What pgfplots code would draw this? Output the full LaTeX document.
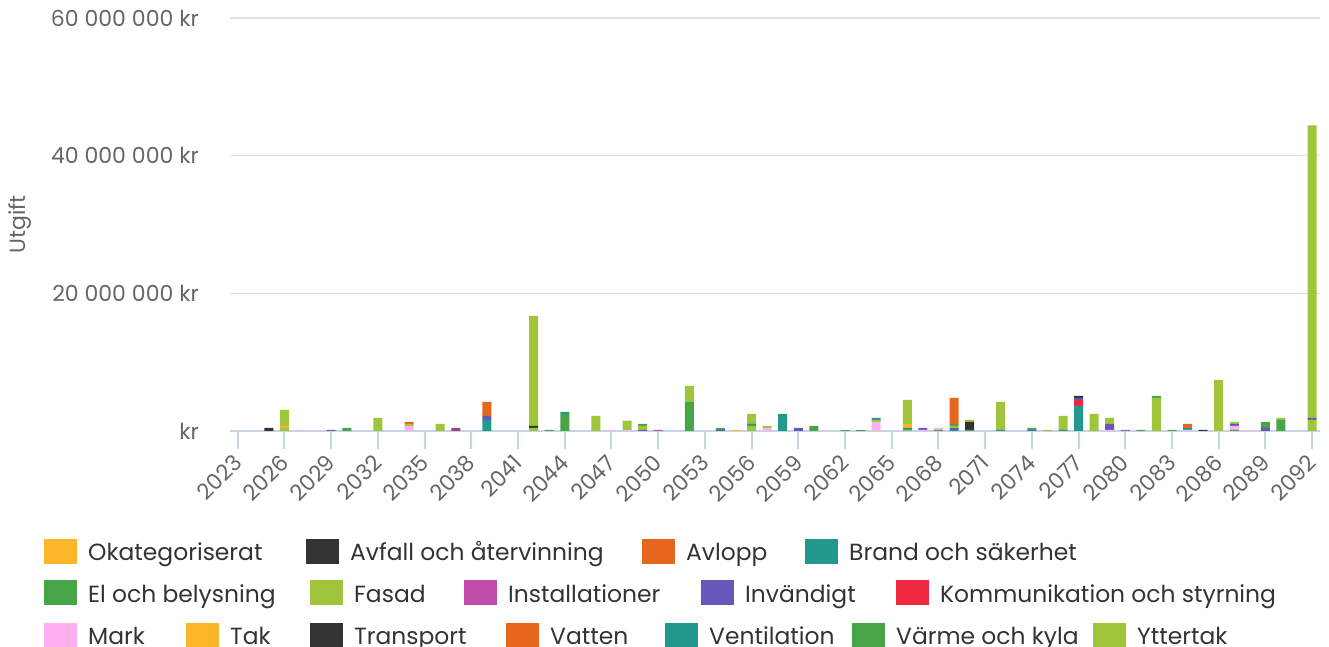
\documentclass[border=0pt]{standalone}
\usepackage{fontspec}
\setmainfont{Poppins}
\usepackage{pgfplots}
\usepackage{pgfplotstable}
\pgfplotsset{compat=1.18}
\definecolor{cY}{HTML}{FDB52A}
\definecolor{cD}{HTML}{333333}
\definecolor{cO}{HTML}{E7661E}
\definecolor{cT}{HTML}{23998E}
\definecolor{cG}{HTML}{47A447}
\definecolor{cL}{HTML}{A0C43A}
\definecolor{cM}{HTML}{C04CAA}
\definecolor{cP}{HTML}{6658B8}
\definecolor{cR}{HTML}{EE2841}
\definecolor{cK}{HTML}{FEB0F0}
\definecolor{cAx}{HTML}{C6D4E3}
\definecolor{cGrid}{HTML}{E0E0E0}
\definecolor{cTick}{HTML}{666666}
\definecolor{cText}{HTML}{333333}
\pgfplotstableread{
i Ok Avf Avl Bra El Fas Ins Inv Kom Mar Tak Tra Vat Ven Var Ytt
0 0 0 0 0 0 0 0 0 0 0 0 0 0 0 0 0
1 0 0 0 0 0 0 0 0 0 0 0 0 0 0 0 0
2 0 .44 0 0 0 0 0 0 0 0 0 0 0 0 0 0
3 0 0 0 0 0 2.33 0 0 0 0 .29 0 0 0 0 .44
4 0 0 0 0 0 0 0 0 0 .12 0 0 0 0 0 0
5 0 0 0 0 0 0 0 0 0 0 0 0 0 0 0 0
6 0 0 0 0 0 0 0 .15 0 0 0 0 0 0 0 0
7 0 0 0 0 .44 0 0 0 0 0 0 0 0 0 0 0
8 0 0 0 0 0 0 0 0 0 0 0 0 0 0 0 0
9 0 0 0 0 0 1.9 0 0 0 0 0 0 0 0 0 0
10 0 0 0 0 0 0 0 0 0 0 0 0 0 0 0 0
11 0 0 .29 0 0 .29 0 0 0 .73 0 0 0 0 0 0
12 0 0 0 0 0 0 0 0 0 0 0 0 0 0 0 0
13 0 0 0 0 0 1.02 0 0 0 0 0 0 0 0 0 0
14 0 0 0 0 0 0 0 .29 .15 0 0 0 0 0 0 0
15 0 0 0 0 0 0 0 0 0 0 0 0 0 0 0 0
16 0 0 2.04 0 0 0 0 .58 0 0 0 0 0 1.6 0 0
17 0 0 0 0 0 0 0 0 0 0 0 0 0 0 0 0
18 0 0 0 0 0 0 0 0 0 0 0 0 0 0 0 0
19 0 0 0 0 0 16.0 0 0 0 0 0 .29 0 0 0 .44
20 0 0 0 0 .15 0 0 0 0 0 0 0 0 0 0 0
21 0 0 0 .29 2.48 0 0 0 0 0 0 0 0 0 0 0
22 0 0 0 0 0 0 0 0 0 0 0 0 0 0 0 0
23 0 0 0 0 0 2.18 0 0 0 0 0 0 0 0 0 0
24 0 0 0 0 0 0 0 0 0 .12 0 0 0 0 0 0
25 0 0 0 0 0 1.4 0 0 0 .12 0 0 0 0 0 0
26 0 0 0 0 .29 .58 0 .15 0 0 0 0 0 0 0 0
27 0 0 0 0 0 0 .15 0 0 0 0 0 0 0 0 0
28 0 0 0 0 0 0 0 0 0 0 0 0 0 0 0 0
29 0 0 0 0 0 2.33 0 0 0 0 0 0 0 0 4.22 0
30 0 0 0 0 0 0 0 0 0 0 0 0 0 0 0 0
31 0 0 0 0 .29 0 0 .15 0 0 0 0 0 0 0 0
32 0 0 0 0 0 0 0 0 0 0 .12 0 0 0 0 0
33 0 0 0 0 0 1.46 0 0 0 0 0 0 0 .29 0 .73
34 0 0 0 0 0 .29 0 0 0 .44 0 0 0 0 0 0
35 0 0 0 2.48 0 0 0 0 0 0 0 0 0 0 0 0
36 0 0 0 0 0 0 0 .44 0 0 0 0 0 0 0 0
37 0 0 0 0 .73 0 0 0 0 0 0 0 0 0 0 0
38 0 0 0 0 0 0 0 0 0 0 0 0 0 0 0 0
39 0 0 0 0 .12 0 0 0 0 0 0 0 0 0 0 0
40 0 0 0 0 .12 0 0 0 0 0 0 0 0 0 0 0
41 0 0 0 .29 0 .29 0 0 0 1.31 0 0 0 0 0 0
42 0 0 0 0 0 0 0 0 0 0 0 0 0 0 0 0
43 0 0 0 0 0 3.5 0 0 0 0 .58 0 0 .29 0 .15
44 0 0 0 0 0 0 0 .29 0 .15 0 0 0 0 0 0
45 0 0 0 0 0 0 0 0 0 .29 0 0 0 0 .15 0
46 0 0 3.79 0 .29 .29 0 .29 0 0 0 0 0 .15 0 0
47 0 0 0 0 0 .29 0 0 0 0 0 1.17 0 0 .15 0
48 0 0 0 0 0 0 0 0 0 0 0 0 0 0 0 0
49 0 0 0 0 0 4.08 0 0 0 0 0 0 0 .15 0 0
50 0 0 0 0 0 0 0 0 0 0 0 0 0 0 0 0
51 0 0 0 0 .29 0 0 .15 0 0 0 0 0 0 0 0
52 0 0 0 0 0 .15 0 0 0 0 0 0 0 0 0 0
53 0 0 0 0 0 2.04 0 0 0 0 0 0 0 .15 0 0
54 0 .29 0 0 0 0 0 .29 .87 0 0 0 0 3.64 0 0
55 0 0 0 0 0 2.48 0 0 0 0 0 0 0 0 0 0
56 0 0 0 0 0 .87 0 .87 0 .15 0 0 0 0 0 0
57 0 0 0 0 0 0 .15 0 0 0 0 0 0 0 0 0
58 0 0 0 0 .15 0 0 0 0 0 0 0 0 0 0 0
59 0 0 0 0 .29 4.8 0 0 0 0 0 0 0 0 0 0
60 0 0 0 0 .15 0 0 0 0 0 0 0 0 0 0 0
61 0 0 .58 .29 0 0 0 0 0 .15 0 0 0 0 0 0
62 0 .15 0 0 0 0 0 0 0 0 0 0 0 0 0 0
63 0 0 0 0 0 7.43 0 0 0 0 0 0 0 0 0 0
64 0 0 0 0 0 .29 0 .29 0 .58 0 0 0 0 .15 0
65 0 0 0 0 0 0 0 0 0 .12 0 0 0 0 0 0
66 0 0 0 0 .87 0 0 .44 0 0 0 0 0 0 0 0
67 0 0 0 0 0 .29 0 0 0 0 0 0 0 0 1.6 0
68 0 0 0 0 0 0 0 0 0 0 0 0 0 0 0 0
69 0 0 0 0 0 42.5 0 .29 0 0 0 0 0 0 0 1.6
}\data
\newcommand\legfont{\fontsize{23.4}{28}\selectfont}
\newcommand\LI[5]{%
  \fill[#4] (#1pt,#3pt-3pt) rectangle ++(33pt,25pt);
  \node[anchor=base west, inner sep=0pt, text=cText, font=\legfont] at (#2pt,#3pt) {#5};}
\begin{document}
\begin{tikzpicture}
\useasboundingbox (0,0) rectangle (1329pt,647pt);
\begin{axis}[
  at={(230pt,216pt)}, anchor=south west,
  scale only axis, width=1090pt, height=413pt,
  xmin=-0.5, xmax=69.5, ymin=0, ymax=60,
  ybar stacked, bar width=9pt,
  axis x line*=bottom, axis y line*=left,
  axis line style={-},
  y axis line style={draw=none},
  x axis line style={cAx, line width=2pt},
  tick align=outside,
  xtick={0,3,...,69},
  xticklabels={2023,2026,2029,2032,2035,2038,2041,2044,2047,2050,2053,2056,2059,2062,2065,2068,2071,2074,2077,2080,2083,2086,2089,2092},
  xtick style={cAx, line width=2pt},
  major tick length=18pt,
  ytick={0,20,40,60},
  yticklabels={kr,20 000 000 kr,40 000 000 kr,60 000 000 kr},
  ytick style={draw=none},
  ymajorgrids, grid style={cGrid, line width=1.5pt},
  yticklabel style={anchor=east, inner sep=0pt, xshift=-13pt, text=cTick, font=\fontsize{22}{26}\selectfont},
  xticklabel style={rotate=45, anchor=east, inner sep=0pt, xshift=-7pt, yshift=-7pt, text=cTick, font=\fontsize{22}{26}\selectfont},
  ylabel={Utgift},
  ylabel style={at={(axis description cs:0,0.5)}, anchor=center, yshift=210pt, text=cTick, font=\fontsize{22}{26}\selectfont},
  clip=false,
]
\addplot[fill=cL, draw=none] table[x=i, y=Ytt] {\data};
\addplot[fill=cG, draw=none] table[x=i, y=Var] {\data};
\addplot[fill=cT, draw=none] table[x=i, y=Ven] {\data};
\addplot[fill=cO, draw=none] table[x=i, y=Vat] {\data};
\addplot[fill=cD, draw=none] table[x=i, y=Tra] {\data};
\addplot[fill=cY, draw=none] table[x=i, y=Tak] {\data};
\addplot[fill=cK, draw=none] table[x=i, y=Mar] {\data};
\addplot[fill=cR, draw=none] table[x=i, y=Kom] {\data};
\addplot[fill=cP, draw=none] table[x=i, y=Inv] {\data};
\addplot[fill=cM, draw=none] table[x=i, y=Ins] {\data};
\addplot[fill=cL, draw=none] table[x=i, y=Fas] {\data};
\addplot[fill=cG, draw=none] table[x=i, y=El] {\data};
\addplot[fill=cT, draw=none] table[x=i, y=Bra] {\data};
\addplot[fill=cO, draw=none] table[x=i, y=Avl] {\data};
\addplot[fill=cD, draw=none] table[x=i, y=Avf] {\data};
\addplot[fill=cY, draw=none] table[x=i, y=Ok] {\data};
\end{axis}
% legend
\LI{44}{88}{86}{cY}{Okategoriserat}
\LI{306}{350}{86}{cD}{Avfall och återvinning}
\LI{642}{686}{86}{cO}{Avlopp}
\LI{805}{849}{86}{cT}{Brand och säkerhet}
\LI{44}{88}{44.5}{cG}{El och belysning}
\LI{310}{354}{44.5}{cL}{Fasad}
\LI{464}{508}{44.5}{cM}{Installationer}
\LI{701}{745}{44.5}{cP}{Invändigt}
\LI{896}{940}{44.5}{cR}{Kommunikation och styrning}
\LI{44}{88}{2}{cK}{Mark}
\LI{186}{230}{2}{cY}{Tak}
\LI{310}{354}{2}{cD}{Transport}
\LI{506}{550}{2}{cO}{Vatten}
\LI{665}{709}{2}{cT}{Ventilation}
\LI{852}{896}{2}{cG}{Värme och kyla}
\LI{1093}{1137}{2}{cL}{Yttertak}
\end{tikzpicture}
\end{document}
